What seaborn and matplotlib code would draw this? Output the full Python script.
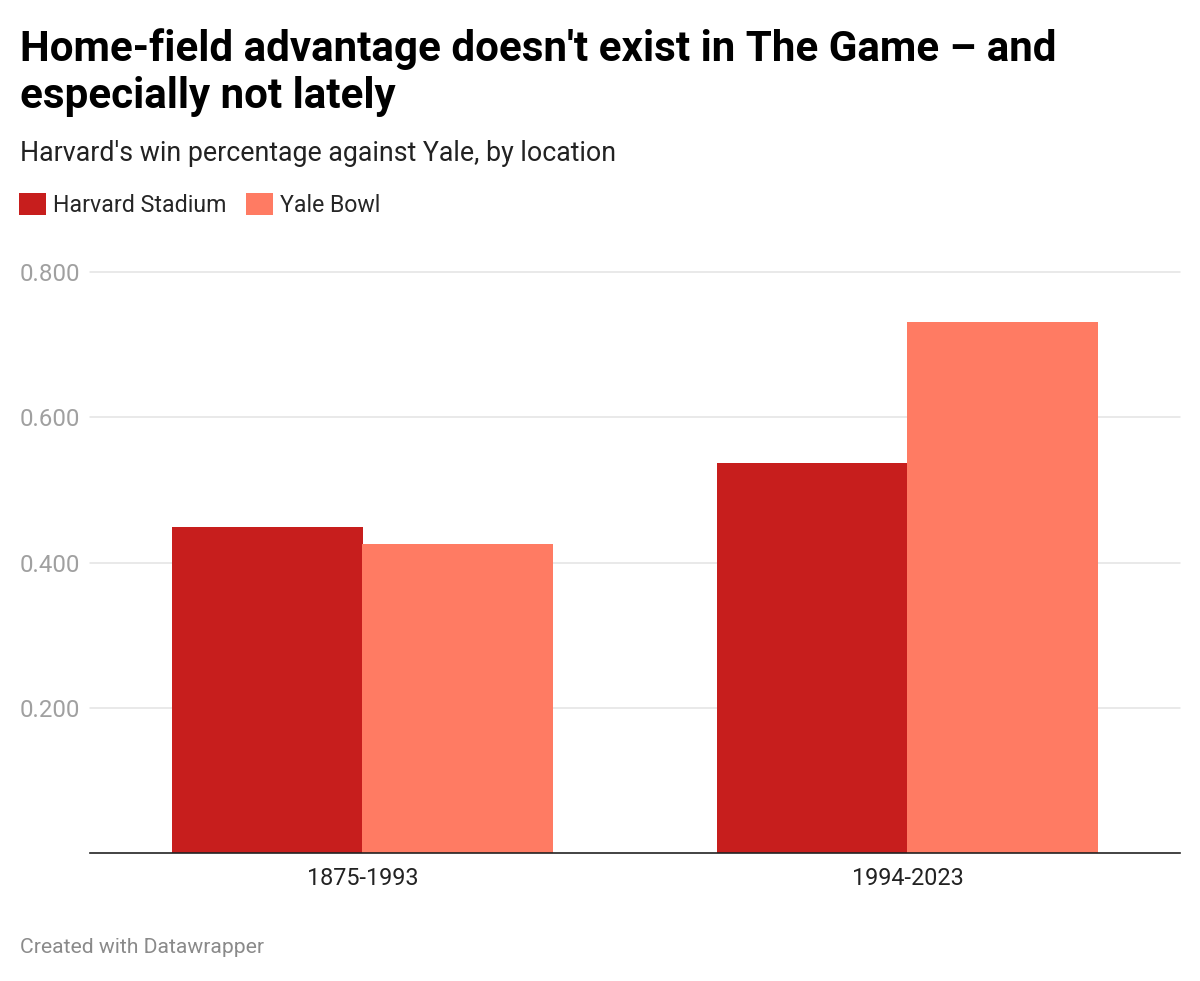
import pandas as pd
import seaborn as sns
import matplotlib.pyplot as plt

periods = ["1875-1993", "1994-2023"]
locations = ["Harvard Stadium", "Yale Bowl"]
harvard_stadium = [0.449, 0.537]
yale_bowl = [0.426, 0.731]
y_ticks = [0.2, 0.4, 0.6, 0.8]

colors = {"Harvard Stadium": "#c71e1d", "Yale Bowl": "#ff7b63"}

df = pd.DataFrame({
    "period": periods * 2,
    "location": [locations[0]] * 2 + [locations[1]] * 2,
    "win_pct": harvard_stadium + yale_bowl,
})

sns.set_theme(style="white")
plt.rcParams["font.family"] = ["Roboto", "DejaVu Sans"]

W, H = 1200, 981
fig = plt.figure(figsize=(W / 100, H / 100), dpi=100)
ax = fig.add_axes([90 / W, 1 - 853 / H, 1090 / W, (853 - 272) / H])

sns.barplot(data=df, x="period", y="win_pct", hue="location", order=periods,
            hue_order=locations, palette=colors, width=0.7, saturation=1,
            linewidth=0, ax=ax)

ax.set_xlim(-0.5, 1.5)
ax.set_ylim(0, 0.8)
ax.set_yticks(y_ticks)
ax.set_yticklabels([f"{v:.3f}" for v in y_ticks])
ax.set_xlabel("")
ax.set_ylabel("")
ax.yaxis.grid(True, color="#e3e3e3", linewidth=1.1)
ax.set_axisbelow(True)
for g in ax.get_ygridlines():
    g.set_clip_on(False)
for side in ["top", "right", "left"]:
    ax.spines[side].set_visible(False)
ax.spines["bottom"].set_color("#222222")
ax.spines["bottom"].set_linewidth(1.2)
ax.tick_params(axis="y", length=0, pad=7, labelsize=17.3, labelcolor="#a0a0a0")
ax.tick_params(axis="x", length=0, pad=10, labelsize=16.8, labelcolor="#222222")

sns.move_legend(ax, "center left", bbox_to_anchor=(19 / W, 1 - 205 / H),
                bbox_transform=fig.transFigure, ncol=2, frameon=False,
                title=None, fontsize=16.7, handlelength=1.16, handleheight=1.12,
                handletextpad=0.3, columnspacing=0.85, borderpad=0,
                borderaxespad=0)

fig.text(20 / W, 1 - 61 / H, "Home-field advantage doesn't exist in The Game \u2013 and",
         fontsize=30.3, fontweight="bold", color="#000000", va="baseline")
fig.text(20 / W, 1 - 108 / H, "especially not lately",
         fontsize=30.3, fontweight="bold", color="#000000", va="baseline")
fig.text(20 / W, 1 - 161 / H, "Harvard's win percentage against Yale, by location",
         fontsize=19.3, color="#222222", va="baseline")
fig.text(20 / W, 1 - 953 / H, "Created with Datawrapper",
         fontsize=15.2, color="#8a8a8a", va="baseline")

fig.savefig("out.png", dpi=100, facecolor="white")
